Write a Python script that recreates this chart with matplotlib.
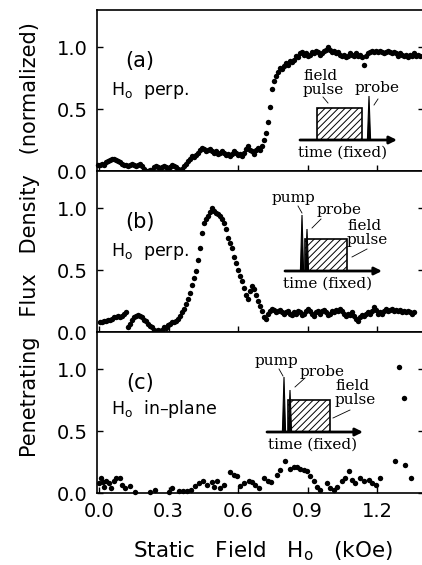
import numpy as np
import matplotlib
matplotlib.use('Agg')
import matplotlib.pyplot as plt
from matplotlib.patches import Rectangle, Polygon

# Field sweep (kOe): uniform steps for (a) and (b)
field_step = 0.00863
field_start_a = -0.004
field_start_b = 0.004

# (a) H_o perp., field pulse then probe
flux_a = [0.05, 0.05, 0.06, 0.05, 0.07, 0.08, 0.09, 0.10, 0.10, 0.09,
          0.08, 0.07, 0.06, 0.05, 0.05, 0.04, 0.05, 0.06, 0.05, 0.04,
          0.05, 0.06, 0.04, 0.02, 0.00, 0.00, 0.01, 0.01, 0.03, 0.04,
          0.03, 0.02, 0.03, 0.04, 0.03, 0.02, 0.03, 0.05, 0.04, 0.03,
          0.02, 0.01, 0.02, 0.04, 0.06, 0.08, 0.10, 0.12, 0.11, 0.13,
          0.15, 0.17, 0.19, 0.18, 0.16, 0.17, 0.18, 0.16, 0.15, 0.16,
          0.14, 0.15, 0.16, 0.15, 0.13, 0.14, 0.12, 0.14, 0.16, 0.15,
          0.13, 0.14, 0.12, 0.15, 0.18, 0.20, 0.17, 0.16, 0.14, 0.17,
          0.19, 0.17, 0.20, 0.25, 0.31, 0.40, 0.52, 0.66, 0.73, 0.77,
          0.80, 0.83, 0.82, 0.85, 0.87, 0.86, 0.89, 0.88, 0.90, 0.93,
          0.92, 0.95, 0.96, 0.94, 0.95, 0.93, 0.94, 0.96, 0.95, 0.97,
          0.96, 0.94, 0.95, 0.97, 0.98, 1.00, 0.98, 0.96, 0.97, 0.95,
          0.96, 0.94, 0.93, 0.94, 0.92, 0.93, 0.95, 0.94, 0.93, 0.95,
          0.93, 0.94, 0.92, 0.86, 0.93, 0.95, 0.96, 0.97, 0.96, 0.97,
          0.96, 0.97, 0.96, 0.95, 0.96, 0.97, 0.96, 0.95, 0.96, 0.95,
          0.93, 0.95, 0.94, 0.93, 0.94, 0.92, 0.94, 0.93, 0.95, 0.93,
          0.94, 0.93]

# (b) H_o perp., pump + probe then field pulse
flux_b = [0.08, 0.08, 0.09, 0.09, 0.10, 0.10, 0.11, 0.12, 0.12, 0.13,
          0.12, 0.13, 0.15, 0.16, 0.04, 0.07, 0.10, 0.12, 0.13, 0.14,
          0.13, 0.12, 0.10, 0.09, 0.07, 0.05, 0.04, 0.02, 0.01, 0.02,
          0.01, 0.02, 0.04, 0.03, 0.06, 0.07, 0.08, 0.08, 0.09, 0.11,
          0.13, 0.16, 0.19, 0.23, 0.27, 0.32, 0.38, 0.44, 0.49, 0.58,
          0.68, 0.80, 0.88, 0.91, 0.94, 0.97, 1.00, 0.98, 0.96, 0.95,
          0.94, 0.91, 0.88, 0.83, 0.76, 0.72, 0.68, 0.61, 0.56, 0.50,
          0.45, 0.41, 0.36, 0.30, 0.27, 0.33, 0.37, 0.35, 0.30, 0.25,
          0.21, 0.17, 0.12, 0.11, 0.15, 0.17, 0.19, 0.18, 0.16, 0.17,
          0.18, 0.16, 0.15, 0.16, 0.17, 0.15, 0.14, 0.16, 0.15, 0.17,
          0.16, 0.14, 0.15, 0.17, 0.19, 0.17, 0.15, 0.13, 0.16, 0.17,
          0.15, 0.17, 0.18, 0.16, 0.14, 0.15, 0.17, 0.16, 0.18, 0.17,
          0.19, 0.17, 0.15, 0.13, 0.15, 0.14, 0.16, 0.13, 0.11, 0.09,
          0.12, 0.14, 0.13, 0.15, 0.16, 0.15, 0.17, 0.20, 0.18, 0.15,
          0.16, 0.15, 0.17, 0.19, 0.17, 0.18, 0.19, 0.17, 0.18, 0.17,
          0.18, 0.16, 0.17, 0.16, 0.17, 0.16, 0.15, 0.16]

# (c) H_o in-plane, scattered points
field_c = [-0.001, 0.009, 0.017, 0.023, 0.032, 0.042, 0.052, 0.063, 0.075, 0.089,
           0.099, 0.114, 0.135, 0.157, 0.221, 0.243, 0.301, 0.315, 0.344, 0.363,
           0.380, 0.397, 0.416, 0.430, 0.449, 0.466, 0.488, 0.498, 0.509, 0.524,
           0.538, 0.567, 0.581, 0.596, 0.610, 0.625, 0.646, 0.660, 0.675, 0.689,
           0.711, 0.728, 0.742, 0.768, 0.780, 0.804, 0.826, 0.840, 0.855, 0.869,
           0.883, 0.898, 0.912, 0.926, 0.941, 0.955, 0.984, 0.998, 1.013, 1.027,
           1.049, 1.063, 1.078, 1.092, 1.106, 1.128, 1.142, 1.164, 1.178, 1.193,
           1.214, 1.279, 1.293, 1.315, 1.322, 1.344]
flux_c = [0.08, 0.12, 0.09, 0.05, 0.10, 0.08, 0.04, 0.10, 0.12, 0.12,
          0.07, 0.04, 0.06, 0.01, 0.01, 0.03, 0.01, 0.04, 0.02, 0.02,
          0.02, 0.03, 0.06, 0.08, 0.10, 0.07, 0.09, 0.05, 0.10, 0.04,
          0.07, 0.17, 0.15, 0.14, 0.06, 0.08, 0.10, 0.09, 0.07, 0.04,
          0.12, 0.10, 0.09, 0.15, 0.19, 0.26, 0.20, 0.21, 0.21, 0.20,
          0.19, 0.18, 0.14, 0.10, 0.05, 0.03, 0.08, 0.04, 0.03, 0.05,
          0.10, 0.12, 0.18, 0.11, 0.08, 0.12, 0.10, 0.11, 0.08, 0.07,
          0.12, 0.26, 1.02, 0.77, 0.23, 0.12]

xticks = [0.0, 0.3, 0.6, 0.9, 1.2]
xtick_labels = ['0.0', '0.3', '0.6', '0.9', '1.2']
yticks = [0.0, 0.5, 1.0]
ytick_labels = ['0.0', '0.5', '1.0']
panel_tags = ['(a)', '(b)', '(c)']
panel_notes = ['H$_\\mathrm{o}$  perp.', 'H$_\\mathrm{o}$  perp.', 'H$_\\mathrm{o}$  in\u2013plane']

field_a = field_start_a + field_step * np.arange(len(flux_a))
field_b = field_start_b + field_step * np.arange(len(flux_b))
series = [(field_a, flux_a), (field_b, flux_b), (np.array(field_c), flux_c)]

W, H = 422, 565
fig = plt.figure(figsize=(W / 100, H / 100), dpi=100)
plt.rcParams['font.family'] = 'DejaVu Sans'
plt.rcParams['hatch.linewidth'] = 0.7

left, right = 97 / W, 424 / W
bottom, top = (H - 493.3) / H, (H - 10) / H
ph = (top - bottom) / 3

axes = []
for k in range(3):
    ax = fig.add_axes([left, top - (k + 1) * ph, right - left, ph])
    x, y = series[k]
    ax.plot(x, y, 'o', color='k', ms=3.9, mew=0, clip_on=False)
    ax.set_xlim(-0.0086, 1.402)
    ax.set_ylim(0, 1.3)
    ax.set_xticks(xticks)
    ax.set_yticks(yticks)
    ax.set_yticklabels(ytick_labels, fontsize=14)
    if k == 2:
        ax.set_xticklabels(xtick_labels, fontsize=14)
    else:
        ax.set_xticklabels([])
    ax.tick_params(direction='in', length=4, width=1, right=True, pad=7)
    ax.tick_params(axis='x', pad=6.5)
    for s in ax.spines.values():
        s.set_linewidth(1.2)
    ax.text(0.177, 0.89, panel_tags[k], fontsize=15, ha='center', va='center')
    ax.text(0.05, 0.65 if k < 2 else 0.68, panel_notes[k], fontsize=12.5, ha='left', va='center')
    axes.append(ax)

fig.text(30 / W, 1 - 240 / H, 'Penetrating   Flux   Density   (normalized)',
         rotation=90, ha='center', va='center', fontsize=15)
fig.text(263 / W, 1 - 557 / H, 'Static   Field   H$_\\mathrm{o}$   (kOe)',
         ha='center', va='baseline', fontsize=15.5)

# pulse-sequence sketches, drawn in figure pixel space
ov = fig.add_axes([0, 0, 1, 1])
ov.set_xlim(0, W)
ov.set_ylim(H, 0)
ov.axis('off')
ov.patch.set_alpha(0)

serif = dict(family='DejaVu Serif', fontsize=11, va='center', ha='left', linespacing=0.95)


def sketch(ox, oy, length, rect, spikes, labels, leaders):
    ov.annotate('', xy=(ox + length, oy), xytext=(ox, oy),
                arrowprops=dict(arrowstyle='-|>', lw=2, color='k',
                                mutation_scale=11, shrinkA=0, shrinkB=0))
    ov.add_patch(Rectangle((ox + rect[0], oy - 32), rect[1] - rect[0], 32,
                           fill=False, hatch='/////', lw=1.2, ec='k'))
    for sx, sh in spikes:
        ov.add_patch(Polygon([(ox + sx - 1.6, oy), (ox + sx, oy - sh), (ox + sx + 1.6, oy)],
                             closed=True, fc='k', ec='k', lw=0.8))
    for txt, tx, ty in labels:
        ov.text(tx, ty, txt, **serif)
    for (x0, y0), (x1, y1) in leaders:
        ov.plot([x0, x1], [y0, y1], color='k', lw=0.6)


sketch(300, 140, 97, (17, 62), [(69, 44)],
       [('field\npulse', 303, 83), ('probe', 355, 88), ('time (fixed)', 298, 153)],
       [((323, 97), (328, 103)), ((378, 99), (374, 105))])
sketch(285, 271, 97, (20, 62), [(17, 56), (22, 42)],
       [('pump', 272, 198), ('probe', 317, 210), ('field\npulse', 347, 233), ('time (fixed)', 283, 284)],
       [((298, 206), (302, 213)), ((321, 219), (312, 228)), ((367, 249), (352, 257))])
sketch(267, 432, 96, (21, 63), [(17, 55), (23, 42)],
       [('pump', 255, 361), ('probe', 300, 372), ('field\npulse', 335, 393), ('time (fixed)', 268, 445)],
       [((279, 369), (283, 376)), ((305, 378), (295, 387)), ((350, 410), (333, 418))])

fig.savefig('out.png', dpi=100)
